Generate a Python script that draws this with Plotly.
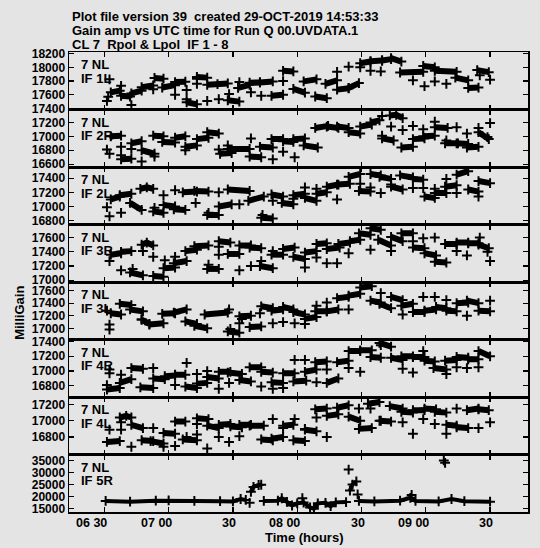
import plotly.graph_objects as go

# ---------------- axis / label data ----------------
TIME_TICKS = [6.5, 7.0, 7.5, 8.0, 8.5, 9.0, 9.5]
TIME_TICK_TEXT = ["06 30", "07 00", "30", "08 00", "30", "09 00", "30"]
X_RANGE = [6.225, 9.795]

ANTENNA = "7 NL"
PANEL_LABELS = ["IF 1L", "IF 2R", "IF 2L", "IF 3R", "IF 3L", "IF 4R", "IF 4L", "IF 5R"]
Y_RANGES = [[17385, 18224], [16560, 17385], [16744, 17559], [16976, 17784],
            [16822, 17737], [16649, 17427], [16585, 17292], [13600, 37460]]
Y_TICKS = [[17400, 17600, 17800, 18000, 18200],
           [16600, 16800, 17000, 17200],
           [16800, 17000, 17200, 17400],
           [17000, 17200, 17400, 17600],
           [17000, 17200, 17400, 17600],
           [16800, 17000, 17200, 17400],
           [16800, 17000, 17200],
           [15000, 20000, 25000, 30000, 35000]]

TITLE_LINES = ["Plot file version 39  created 29-OCT-2019 14:53:33",
               "Gain amp vs UTC time for Run Q 00.UVDATA.1",
               "CL 7  Rpol & Lpol  IF 1 - 8"]
X_TITLE = "Time (hours)"
Y_TITLE = "MilliGain"

# ---------------- series data: (times [h], gains) per scan ----------------
P1_CLUSTERS = [((6.55, 6.62), (17635, 17660)), ((6.63, 6.70), (17585, 17575)),
               ((6.71, 6.79), (17620, 17660)), ((6.79, 6.88), (17710, 17735)),
               ((6.89, 6.96), (17845, 17835)), ((6.95, 7.05), (17705, 17740)),
               ((7.05, 7.13), (17785, 17790)), ((7.14, 7.22), (17490, 17460)),
               ((7.22, 7.30), (17860, 17850)), ((7.30, 7.38, 7.46), (17745, 17755, 17765)),
               ((7.46, 7.55), (17520, 17500)), ((7.54, 7.63), (17700, 17745)),
               ((7.63, 7.71), (17775, 17780)), ((7.71, 7.81), (17780, 17795)),
               ((7.80, 7.89), (17585, 17600)), ((7.89, 7.97), (17950, 17940)),
               ((7.97, 8.06), (17685, 17630)), ((8.05, 8.15), (17795, 17825)),
               ((8.14, 8.23), (17575, 17550)), ((8.22, 8.31), (17760, 17810)),
               ((8.31, 8.40), (17675, 17695)), ((8.40, 8.48), (17700, 17770)),
               ((8.49, 8.57), (18060, 18085)), ((8.57, 8.66), (18090, 18100)),
               ((8.66, 8.73), (18100, 18120)), ((8.73, 8.81), (18135, 18085)),
               ((8.80, 8.98), (17925, 17935)), ((8.98, 9.07), (18020, 18000)),
               ((9.07, 9.24), (17950, 17935)), ((9.23, 9.33), (17850, 17810)),
               ((9.33, 9.41), (17700, 17705)), ((9.40, 9.49), (17960, 17930))]
P1_SINGLE_T = [6.52, 6.53, 6.54, 6.63, 6.71, 6.88, 7.05, 7.14, 7.14, 7.22, 7.22, 7.30, 7.39, 7.47,
               7.55, 7.64, 7.72, 7.89, 8.31, 8.40, 8.49, 8.57, 8.65, 8.90, 8.99, 9.07, 9.16, 9.42, 9.50]
P1_SINGLE_V = [17510, 17570, 17825, 17730, 17450, 17680, 17600, 17670, 17535, 17760, 17835, 17510,
               17535, 17610, 17785, 17635, 17585, 17800, 17935, 18010, 18000, 17950, 17940, 17810,
               17725, 17795, 17760, 17885, 17820]

P2_CLUSTERS = [((6.55, 6.63), (17000, 17010)), ((6.63, 6.71), (16670, 16680)),
               ((6.71, 6.79), (16900, 16930)), ((6.79, 6.89), (16800, 16750)),
               ((6.88, 6.96), (17010, 17000)), ((6.95, 7.05), (16920, 16910)),
               ((7.05, 7.13), (16980, 17000)), ((7.13, 7.22), (16850, 16870)),
               ((7.22, 7.31), (16960, 16980)), ((7.30, 7.39), (17060, 17040)),
               ((7.40, 7.49), (16750, 16760)), ((7.46, 7.63), (16820, 16820)),
               ((7.63, 7.72), (16710, 16700)), ((7.71, 7.81), (16850, 16840)),
               ((7.80, 7.89), (16960, 16960)), ((7.89, 7.97), (16930, 16920)),
               ((7.97, 8.06), (16960, 16970)), ((8.05, 8.16), (16870, 16840)),
               ((8.14, 8.24), (17120, 17150)), ((8.23, 8.32), (17140, 17120)),
               ((8.31, 8.40), (17140, 17120)), ((8.40, 8.49), (17060, 17040)),
               ((8.49, 8.58), (17140, 17170)), ((8.57, 8.64), (17200, 17230)),
               ((8.66, 8.75), (16970, 16940)), ((8.72, 8.77, 8.82), (17300, 17310, 17260)),
               ((8.81, 8.90), (16840, 16850)), ((8.90, 8.99), (16960, 16970)),
               ((8.98, 9.07), (17000, 17010)), ((9.07, 9.17), (17130, 17120)),
               ((9.15, 9.25), (16900, 16900)), ((9.24, 9.33), (16900, 16890)),
               ((9.32, 9.41), (16840, 16850)), ((9.41, 9.49), (17060, 16960))]
P2_SINGLE_T = [6.52, 6.54, 6.63, 6.63, 6.71, 6.79, 6.89, 7.13, 7.39, 7.46, 7.64, 7.81, 7.89, 7.98,
               8.66, 8.66, 8.73, 8.82, 8.90, 8.98, 9.07, 9.16, 9.24, 9.32, 9.41, 9.48, 9.50]
P2_SINGLE_V = [16810, 16750, 16850, 16730, 16820, 16640, 16710, 16800, 16810, 16870, 16970, 16670,
               16780, 16700, 17290, 17010, 17140, 17090, 17150, 17100, 17210, 16940, 17130, 17040,
               17120, 16990, 17190]

P3_CLUSTERS = [((6.55, 6.62), (17100, 17140)), ((6.62, 6.71), (17160, 17180)),
               ((6.70, 6.79), (17050, 16950)), ((6.78, 6.83, 6.88), (17250, 17270, 17250)),
               ((6.88, 6.96), (16930, 16910)), ((6.96, 7.05), (17020, 17000)),
               ((7.04, 7.13), (16960, 16950)), ((7.11, 7.22), (17200, 17210)),
               ((7.20, 7.31), (17220, 17210)), ((7.30, 7.39), (16880, 16880)),
               ((7.39, 7.49), (17000, 17030)), ((7.46, 7.63), (17240, 17220)),
               ((7.62, 7.74), (17080, 17140)), ((7.72, 7.81), (16840, 16830)),
               ((7.80, 7.89), (17170, 17140)), ((7.88, 7.97), (17050, 17030)),
               ((7.97, 8.06), (17160, 17180)), ((8.06, 8.15), (17120, 17080)),
               ((8.15, 8.23), (17180, 17200)), ((8.23, 8.32), (17280, 17310)),
               ((8.31, 8.41), (17310, 17320)), ((8.40, 8.49), (17420, 17460)),
               ((8.48, 8.57), (17220, 17210)), ((8.57, 8.65), (17460, 17440)),
               ((8.64, 8.73), (17420, 17390)), ((8.73, 8.82), (17280, 17240)),
               ((8.80, 8.90), (17440, 17410)), ((8.90, 8.98), (17390, 17380)),
               ((8.99, 9.07), (17140, 17120)), ((9.07, 9.16), (17190, 17190)),
               ((9.15, 9.24), (17280, 17300)), ((9.24, 9.33), (17450, 17500)),
               ((9.33, 9.41), (17240, 17210)), ((9.41, 9.50), (17360, 17330))]
P3_SINGLE_T = [6.52, 6.54, 6.63, 6.89, 6.96, 7.05, 7.21, 7.31, 7.39, 7.55, 7.73, 7.81, 7.97, 8.06,
               8.15, 8.31, 8.49, 8.57, 8.65, 8.73, 8.90, 8.98, 9.07, 9.16, 9.24, 9.41]
P3_SINGLE_V = [16990, 16860, 16910, 16980, 17160, 17230, 17050, 16910, 17200, 17030, 16880, 17080,
               17110, 17270, 17250, 17100, 17320, 17270, 17190, 17310, 17260, 17260, 17250, 17390,
               17190, 17140]

P4_CLUSTERS = [((6.55, 6.63), (17360, 17380)), ((6.63, 6.71), (17400, 17410)),
               ((6.70, 6.80), (17110, 17070)), ((6.79, 6.83, 6.88), (17500, 17530, 17490)),
               ((6.88, 6.96), (17060, 17050)), ((6.96, 7.05), (17170, 17180)),
               ((7.04, 7.14), (17240, 17270)), ((7.13, 7.22), (17410, 17430)),
               ((7.20, 7.31), (17480, 17490)), ((7.30, 7.39), (17160, 17160)),
               ((7.39, 7.48), (17550, 17530)), ((7.46, 7.55), (17370, 17370)),
               ((7.55, 7.64), (17490, 17490)), ((7.63, 7.72), (17460, 17450)),
               ((7.71, 7.81), (17200, 17170)), ((7.80, 7.89), (17360, 17360)),
               ((7.89, 7.98), (17440, 17460)), ((7.97, 8.06), (17330, 17300)),
               ((8.06, 8.15), (17390, 17410)), ((8.15, 8.23), (17510, 17520)),
               ((8.23, 8.33), (17440, 17460)), ((8.32, 8.41), (17510, 17530)),
               ((8.41, 8.49), (17550, 17570)), ((8.48, 8.57), (17660, 17640)),
               ((8.57, 8.65), (17730, 17710)), ((8.63, 8.73), (17570, 17490)),
               ((8.73, 8.82), (17610, 17550)), ((8.81, 8.90), (17660, 17660)),
               ((8.90, 8.99), (17460, 17450)), ((8.99, 9.08), (17380, 17350)),
               ((9.07, 9.16), (17260, 17250)), ((9.15, 9.24), (17510, 17510)),
               ((9.24, 9.33), (17530, 17530)), ((9.33, 9.41), (17520, 17520)),
               ((9.41, 9.49), (17500, 17450))]
P4_SINGLE_T = [6.54, 6.63, 6.72, 6.80, 6.88, 6.97, 7.05, 7.31, 7.39, 7.39, 7.55, 7.64, 7.72, 7.81,
               8.06, 8.15, 8.23, 8.31, 8.40, 8.57, 8.73, 8.90, 8.98, 9.07, 9.24, 9.32, 9.42, 9.48, 9.50]
P4_SINGLE_V = [17270, 17140, 17160, 17410, 17330, 17280, 17330, 17220, 17360, 17470, 17140, 17200,
               17270, 17410, 17180, 17320, 17240, 17240, 17380, 17430, 17410, 17550, 17590, 17600,
               17410, 17350, 17600, 17400, 17270]

P5_CLUSTERS = [((6.55, 6.63), (17240, 17220)), ((6.62, 6.71), (17390, 17370)),
               ((6.70, 6.80), (17300, 17270)), ((6.79, 6.85), (17140, 17070)),
               ((6.85, 6.96), (17060, 17080)), ((6.95, 7.05), (17230, 17240)),
               ((7.04, 7.14), (17250, 17300)), ((7.13, 7.22), (17110, 17070)),
               ((7.20, 7.30), (17040, 17000)), ((7.28, 7.46), (17220, 17250)),
               ((7.46, 7.55), (16950, 16930)), ((7.55, 7.64), (17190, 17200)),
               ((7.63, 7.72), (17020, 17030)), ((7.72, 7.81), (17350, 17320)),
               ((7.80, 7.89), (17280, 17300)), ((7.89, 7.97), (17340, 17300)),
               ((7.97, 8.06), (17260, 17220)), ((8.06, 8.15), (17150, 17180)),
               ((8.14, 8.23), (17270, 17270)), ((8.23, 8.32), (17270, 17300)),
               ((8.31, 8.40), (17480, 17500)), ((8.40, 8.49), (17520, 17550)),
               ((8.49, 8.58), (17650, 17670)), ((8.57, 8.65), (17440, 17410)),
               ((8.64, 8.73), (17390, 17320)), ((8.73, 8.82), (17500, 17450)),
               ((8.81, 8.90), (17360, 17390)), ((8.90, 8.99), (17260, 17260)),
               ((8.99, 9.08), (17280, 17300)), ((9.08, 9.16), (17340, 17320)),
               ((9.16, 9.24), (17280, 17270)), ((9.24, 9.33), (17400, 17410)),
               ((9.32, 9.41), (17440, 17400)), ((9.41, 9.50), (17280, 17270))]
P5_SINGLE_T = [6.52, 6.54, 6.54, 6.79, 7.47, 7.48, 7.55, 7.57, 7.71, 7.81, 7.89, 7.98, 8.06, 8.15,
               8.23, 8.40, 8.65, 8.82, 8.98, 9.07, 9.16, 9.32, 9.50]
P5_SINGLE_V = [17280, 17060, 16980, 17140, 17300, 16990, 17080, 17150, 17240, 17080, 17100, 17080,
               17070, 17360, 17410, 17300, 17560, 17220, 17500, 17500, 17450, 17200, 17440]

P6_CLUSTERS = [((6.52, 6.62), (16750, 16770)), ((6.62, 6.71), (16840, 16890)),
               ((6.71, 6.80), (17040, 17030)), ((6.78, 6.88), (16780, 16770)),
               ((6.88, 6.97), (16900, 16890)), ((6.97, 7.05), (16930, 16940)),
               ((7.05, 7.13), (16950, 16950)), ((7.13, 7.22), (16790, 16770)),
               ((7.22, 7.30), (16830, 16840)), ((7.30, 7.39), (16920, 16900)),
               ((7.39, 7.48), (16990, 16990)), ((7.46, 7.57), (16980, 16960)),
               ((7.55, 7.64), (16880, 16860)), ((7.63, 7.72), (17050, 17050)),
               ((7.72, 7.81), (16990, 16980)), ((7.80, 7.89), (16850, 16840)),
               ((7.89, 7.98), (16970, 16970)), ((7.97, 8.07), (16860, 16870)),
               ((8.06, 8.15), (16990, 17020)), ((8.14, 8.23), (17120, 17130)),
               ((8.23, 8.32), (16840, 16900)), ((8.31, 8.40), (17120, 17140)),
               ((8.40, 8.49), (17270, 17270)), ((8.49, 8.58), (17280, 17280)),
               ((8.57, 8.65), (17190, 17180)), ((8.64, 8.73), (17380, 17330)),
               ((8.73, 8.82), (17180, 17150)), ((8.81, 8.90), (17200, 17200)),
               ((8.90, 8.99), (17190, 17190)), ((8.99, 9.07), (17140, 17130)),
               ((9.06, 9.16), (17040, 17020)), ((9.15, 9.24), (17140, 17150)),
               ((9.24, 9.33), (17190, 17180)), ((9.33, 9.41), (17160, 17160)),
               ((9.41, 9.50), (17270, 17200))]
P6_SINGLE_T = [6.52, 6.54, 6.54, 6.63, 6.88, 7.05, 7.14, 7.22, 7.30, 7.39, 7.47, 7.72, 7.81, 7.89,
               7.98, 8.06, 8.15, 8.23, 8.40, 8.49, 8.65, 8.82, 8.90, 8.98, 9.16, 9.24, 9.32, 9.41]
P6_SINGLE_V = [16810, 17020, 16970, 16950, 17040, 16810, 17110, 16960, 17000, 16760, 16840, 16790,
               16760, 16770, 17150, 17150, 16850, 17020, 17040, 16990, 17350, 17030, 16980, 17270,
               16960, 17050, 17040, 17050]

P7_CLUSTERS = [((6.52, 6.62), (16740, 16750)), ((6.62, 6.67, 6.71), (17040, 17060, 17040)),
               ((6.71, 6.80), (16950, 16910)), ((6.79, 6.88), (16760, 16750)),
               ((6.86, 6.96), (16750, 16720)), ((6.96, 7.05), (16850, 16840)),
               ((7.05, 7.13), (16990, 16990)), ((7.11, 7.22), (16770, 16760)),
               ((7.22, 7.31), (17030, 17020)), ((7.30, 7.39), (16940, 16910)),
               ((7.39, 7.48), (16950, 16960)), ((7.48, 7.57), (16930, 16920)),
               ((7.55, 7.64), (16950, 16950)), ((7.63, 7.74), (16940, 16940)),
               ((7.72, 7.81), (16770, 16760)), ((7.80, 7.89), (16780, 16800)),
               ((7.89, 7.97), (16940, 16950)), ((7.97, 8.06), (16760, 16750)),
               ((8.06, 8.15), (16890, 16870)), ((8.14, 8.23), (17140, 17150)),
               ((8.23, 8.32), (17060, 17080)), ((8.31, 8.40), (17160, 17190)),
               ((8.40, 8.49), (17050, 17000)), ((8.48, 8.58), (16900, 16910)),
               ((8.55, 8.64), (17210, 17230)), ((8.64, 8.73), (17000, 16990)),
               ((8.72, 8.82), (17180, 17150)), ((8.81, 8.90), (17110, 17100)),
               ((8.90, 8.99), (17130, 17130)), ((8.99, 9.08), (17150, 17140)),
               ((9.07, 9.16), (17110, 17100)), ((9.16, 9.24), (16950, 16940)),
               ((9.24, 9.33), (16920, 16910)), ((9.32, 9.41), (17130, 17150)),
               ((9.41, 9.49), (17140, 17130))]
P7_SINGLE_T = [6.54, 6.63, 6.63, 6.71, 6.88, 6.96, 7.05, 7.14, 7.22, 7.22, 7.30, 7.39, 7.47, 7.55,
               7.81, 7.89, 7.98, 8.06, 8.15, 8.23, 8.48, 8.57, 8.65, 8.82, 8.90, 8.98, 9.07, 9.16,
               9.24, 9.41, 9.50]
P7_SINGLE_V = [16890, 16890, 16980, 16680, 16910, 16680, 16690, 16800, 16830, 16960, 16660, 16800,
               16740, 16810, 17020, 16910, 17020, 16900, 17040, 16800, 17150, 17150, 17000, 16980,
               16840, 17020, 16960, 16840, 17150, 16910, 16980]

P8_CLUSTERS = [((6.51, 6.70, 6.90, 7.00, 7.20, 7.40, 7.50, 7.56, 7.60),
                (18200, 17900, 18300, 18400, 18200, 18100, 18000, 19000, 18600)),
               ((7.64, 7.66, 7.70, 7.72), (22000, 24000, 24800, 24900)),
               ((7.74, 7.85, 7.88, 7.92, 7.96, 8.00, 8.05, 8.10, 8.13, 8.16, 8.22, 8.26, 8.30, 8.38),
                (18200, 18300, 19300, 17800, 16300, 17200, 17500, 15500, 15000, 17200, 17400,
                 16000, 17600, 17700)),
               ((8.41, 8.43, 8.46), (22500, 25000, 26300)),
               ((8.48, 8.60, 8.80, 8.88, 8.92, 9.10, 9.20, 9.30, 9.50),
                (18200, 18000, 18300, 19500, 18200, 18000, 19000, 18100, 17900))]
P8_SINGLE_T = [7.63, 8.04, 8.40, 8.47, 8.89, 9.14, 9.15]
P8_SINGLE_V = [17400, 19300, 31200, 20900, 20700, 35000, 34000]

PANELS = [(P1_CLUSTERS, P1_SINGLE_T, P1_SINGLE_V), (P2_CLUSTERS, P2_SINGLE_T, P2_SINGLE_V),
          (P3_CLUSTERS, P3_SINGLE_T, P3_SINGLE_V), (P4_CLUSTERS, P4_SINGLE_T, P4_SINGLE_V),
          (P5_CLUSTERS, P5_SINGLE_T, P5_SINGLE_V), (P6_CLUSTERS, P6_SINGLE_T, P6_SINGLE_V),
          (P7_CLUSTERS, P7_SINGLE_T, P7_SINGLE_V), (P8_CLUSTERS, P8_SINGLE_T, P8_SINGLE_V)]

# ---------------- style ----------------
BG = "#e4e4e4"
FONT = "Liberation Sans, Arial, Helvetica, sans-serif"
N = len(PANELS)
MARKER = dict(symbol="cross-thin", size=7, color="black", line=dict(width=2, color="black"))

fig = go.Figure()
layout = {}
annotations = []

for i, (clusters, st, sv) in enumerate(PANELS):
    ax = "" if i == 0 else str(i + 1)
    xs, ys = [], []
    for ts, vs in clusters:
        xs += list(ts) + [None]
        ys += list(vs) + [None]
    fig.add_trace(go.Scatter(x=xs, y=ys, mode="lines+markers", xaxis="x" + ax, yaxis="y" + ax,
                             line=dict(color="black", width=4 if i == N - 1 else 6),
                             marker=MARKER, connectgaps=False, showlegend=False,
                             hoverinfo="skip"))
    fig.add_trace(go.Scatter(x=st, y=sv, mode="markers", xaxis="x" + ax, yaxis="y" + ax,
                             marker=MARKER, showlegend=False, hoverinfo="skip"))
    top = 1 - i / N
    bot = 1 - (i + 1) / N
    layout["xaxis" + ax] = dict(domain=[0, 1], anchor="y" + ax, range=X_RANGE,
                                tickvals=TIME_TICKS, showticklabels=False, automargin=False,
                                ticks="inside", ticklen=5, tickwidth=1.3, tickcolor="black",
                                showline=True, linecolor="black", linewidth=1.5,
                                mirror="ticks", showgrid=False, zeroline=False)
    layout["yaxis" + ax] = dict(domain=[bot, top], anchor="x" + ax, range=Y_RANGES[i],
                                tickvals=Y_TICKS[i], ticktext=[str(v) for v in Y_TICKS[i]],
                                automargin=False,
                                ticks="inside", ticklen=5, tickwidth=1.3, tickcolor="black",
                                showline=True, linecolor="black", linewidth=1.5,
                                mirror="ticks", showgrid=False, zeroline=False,
                                tickfont=dict(family=FONT, size=12, color="black", weight="bold"))
    for txt, dy in ((ANTENNA, -12.5), (PANEL_LABELS[i], -26)):
        annotations.append(dict(text=txt, xref="x" + ax + " domain", yref="y" + ax + " domain",
                                x=0, y=1, xanchor="left", yanchor="middle", xshift=10, yshift=dy,
                                showarrow=False,
                                font=dict(family=FONT, size=13, color="black", weight="bold")))

# x tick labels on the bottom panel (minutes centred on the tick)
for tv, tt in zip(TIME_TICKS, TIME_TICK_TEXT):
    annotations.append(dict(text=tt, xref="x" + str(N), yref="paper", x=tv, y=0,
                            xanchor="right", yanchor="middle", xshift=5, yshift=-11,
                            showarrow=False,
                            font=dict(family=FONT, size=12.5, color="black", weight="bold")))

for line, dy in zip(TITLE_LINES, (36, 21.5, 7.5)):
    annotations.append(dict(text=line, xref="paper", yref="paper", x=0, y=1, xanchor="left",
                            yanchor="middle", xshift=1, yshift=dy, showarrow=False,
                            font=dict(family=FONT, size=13, color="black", weight="bold")))

annotations.append(dict(text=X_TITLE, xref="paper", yref="paper", x=0.514, y=0,
                        xanchor="center", yanchor="middle", yshift=-25.5, showarrow=False,
                        font=dict(family=FONT, size=13, color="black", weight="bold")))
annotations.append(dict(text=Y_TITLE, xref="paper", yref="paper", x=0, y=0.433,
                        xanchor="center", yanchor="middle", xshift=-49, textangle=-90,
                        showarrow=False,
                        font=dict(family=FONT, size=13, color="black", weight="bold")))

fig.update_layout(template="none", width=540, height=548, autosize=False,
                  margin=dict(l=69, r=12, t=52, b=36, pad=0),
                  paper_bgcolor=BG, plot_bgcolor=BG,
                  showlegend=False, annotations=annotations, **layout)

POST = ("document.body.style.margin='0';document.body.style.padding='0';"
        "document.body.style.overflow='hidden';document.body.style.background='" + BG + "';"
        "document.documentElement.style.overflow='hidden';")

fig.write_html("out.html", post_script=POST,
               config={"displayModeBar": False, "staticPlot": True})
